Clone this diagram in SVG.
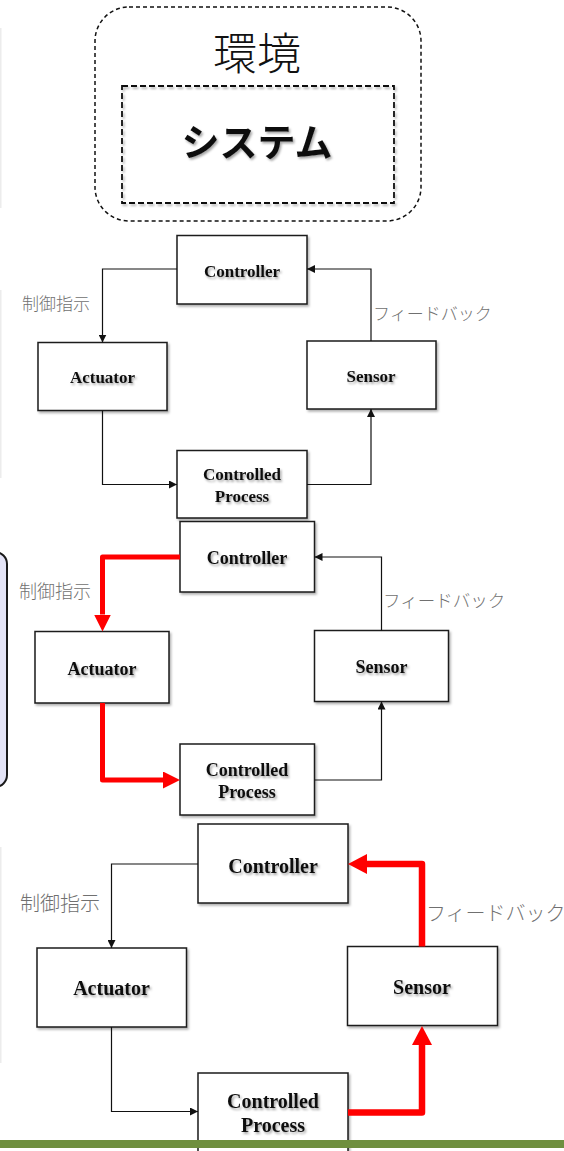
<svg xmlns="http://www.w3.org/2000/svg" width="564" height="1151" viewBox="0 0 564 1151">
<style>
.box{fill:#fff;stroke:#1a1a1a;stroke-width:1.5}
.lbl{font-family:"Liberation Serif","Times New Roman",serif;font-weight:bold;fill:#111;text-anchor:middle}
.jp{font-family:"Noto Sans CJK JP","Noto Sans",sans-serif;fill:#707070;font-weight:300}
.blk{fill:none;stroke:#111;stroke-width:1.2}
.red3{fill:none;stroke:#ff0000;stroke-width:5;stroke-linejoin:round}
.red4{fill:none;stroke:#ff0000;stroke-width:6.5;stroke-linejoin:round}
.edge{stroke:#ececec;stroke-width:2}
</style>
<defs>
<filter id="bsh" x="-10%" y="-10%" width="130%" height="130%">
<feDropShadow dx="1.5" dy="2" stdDeviation="1.2" flood-color="#000" flood-opacity="0.3"/>
</filter>
<filter id="tsh" x="-10%" y="-20%" width="130%" height="150%">
<feDropShadow dx="1.5" dy="2" stdDeviation="1" flood-color="#000" flood-opacity="0.35"/>
</filter>
<marker id="ab" markerUnits="userSpaceOnUse" markerWidth="8" markerHeight="8" refX="8" refY="4" orient="auto">
<path d="M0,0 L8,4 L0,8 z" fill="#111"/>
</marker>
<marker id="ar3" markerUnits="userSpaceOnUse" markerWidth="17" markerHeight="17" refX="0" refY="8.5" orient="auto">
<path d="M0,0 L17,8.5 L0,17 z" fill="#ff0000"/>
</marker>
<marker id="ar4" markerUnits="userSpaceOnUse" markerWidth="20" markerHeight="20" refX="0" refY="10" orient="auto">
<path d="M0,0 L19,10 L0,20 z" fill="#ff0000"/>
</marker>
</defs>

<rect width="564" height="1151" fill="#fff"/>

<!-- left edge partial shapes -->
<g id="left-edges">
<line class="edge" x1="0.5" y1="28" x2="0.5" y2="208"/>
<line class="edge" x1="0.5" y1="290" x2="0.5" y2="478"/>
<line class="edge" x1="0.5" y1="847" x2="0.5" y2="1063"/>
<rect x="-20" y="552" width="27" height="235" rx="12" fill="#e4e4f7" stroke="#1a1a1a" stroke-width="2"/>
</g>

<!-- Section 1: environment / system -->
<g id="env">
<rect x="95" y="7" width="326" height="214" rx="34" fill="#fff" stroke="#111" stroke-width="1.5" stroke-dasharray="4 3"/>
<text x="257" y="70" text-anchor="middle" class="jp" style="font-size:44px;fill:#111;font-weight:300">環境</text>
</g>
<g id="system">
<rect x="122" y="86" width="272" height="117" fill="none" stroke="#111" stroke-width="1.8" stroke-dasharray="6 3" filter="url(#bsh)"/>
<text x="257" y="156" text-anchor="middle" class="jp" style="font-size:38px;fill:#111;font-weight:bold" filter="url(#tsh)">システム</text>
</g>

<!-- Section 2 -->
<g id="s2-controller" filter="url(#bsh)">
<rect class="box" x="177" y="235.5" width="130" height="68.5"/>
<text class="lbl" x="242" y="276.5" font-size="17" filter="url(#tsh)">Controller</text>
</g>
<g id="s2-actuator" filter="url(#bsh)">
<rect class="box" x="38" y="342.5" width="129" height="68"/>
<text class="lbl" x="102.5" y="383" font-size="17" filter="url(#tsh)">Actuator</text>
</g>
<g id="s2-sensor" filter="url(#bsh)">
<rect class="box" x="307" y="341" width="129" height="68"/>
<text class="lbl" x="371" y="382" font-size="17" filter="url(#tsh)">Sensor</text>
</g>
<g id="s2-process" filter="url(#bsh)">
<rect class="box" x="177" y="450.5" width="130" height="67.5"/>
<text class="lbl" x="242" y="480" font-size="17" filter="url(#tsh)">Controlled</text>
<text class="lbl" x="242" y="502" font-size="17" filter="url(#tsh)">Process</text>
</g>

<!-- Section 3 -->
<g id="s3-controller" filter="url(#bsh)">
<rect class="box" x="180" y="521.5" width="134.5" height="70.5"/>
<text class="lbl" x="247" y="564" font-size="18" filter="url(#tsh)">Controller</text>
</g>
<g id="s3-actuator" filter="url(#bsh)">
<rect class="box" x="35" y="631.5" width="134" height="71.5"/>
<text class="lbl" x="102" y="675" font-size="18" filter="url(#tsh)">Actuator</text>
</g>
<g id="s3-sensor" filter="url(#bsh)">
<rect class="box" x="314.5" y="630.5" width="134" height="71"/>
<text class="lbl" x="381.5" y="673" font-size="18" filter="url(#tsh)">Sensor</text>
</g>
<g id="s3-process" filter="url(#bsh)">
<rect class="box" x="180" y="744" width="134.5" height="71"/>
<text class="lbl" x="247" y="776" font-size="18" filter="url(#tsh)">Controlled</text>
<text class="lbl" x="247" y="798" font-size="18" filter="url(#tsh)">Process</text>
</g>

<!-- Section 4 -->
<g id="s4-controller" filter="url(#bsh)">
<rect class="box" x="198" y="824" width="150" height="79"/>
<text class="lbl" x="273" y="873" font-size="20" filter="url(#tsh)">Controller</text>
</g>
<g id="s4-actuator" filter="url(#bsh)">
<rect class="box" x="37" y="948" width="149.5" height="79"/>
<text class="lbl" x="111.5" y="995" font-size="20" filter="url(#tsh)">Actuator</text>
</g>
<g id="s4-sensor" filter="url(#bsh)">
<rect class="box" x="347.5" y="946.5" width="150" height="79"/>
<text class="lbl" x="422" y="994" font-size="20" filter="url(#tsh)">Sensor</text>
</g>
<g id="s4-process" filter="url(#bsh)">
<rect class="box" x="198" y="1073" width="150" height="90"/>
<text class="lbl" x="273" y="1108" font-size="20" filter="url(#tsh)">Controlled</text>
<text class="lbl" x="273" y="1132" font-size="20" filter="url(#tsh)">Process</text>
</g>

<!-- connectors -->
<g id="connectors">
<path class="blk" d="M177,269 H102.5 V342.5" marker-end="url(#ab)"/>
<path class="blk" d="M102.5,410.5 V484.5 H177" marker-end="url(#ab)"/>
<path class="blk" d="M307,484.5 H371 V409" marker-end="url(#ab)"/>
<path class="blk" d="M371,341 V269 H307" marker-end="url(#ab)"/>

<path class="red3" d="M180,557 H102.5 V614.5" marker-end="url(#ar3)"/>
<path class="red3" d="M102.5,703 V780 H163" marker-end="url(#ar3)"/>
<path class="blk" d="M314.5,780 H381.5 V701.5" marker-end="url(#ab)"/>
<path class="blk" d="M381.5,630.5 V557 H314.5" marker-end="url(#ab)"/>

<path class="blk" d="M198,864 H111.5 V948" marker-end="url(#ab)"/>
<path class="blk" d="M111.5,1027 V1111.5 H198" marker-end="url(#ab)"/>
<path class="red4" d="M348,1112.5 H422 V1045" marker-end="url(#ar4)"/>
<path class="red4" d="M422,946.5 V864 H367" marker-end="url(#ar4)"/>
</g>

<!-- connector labels -->
<g id="labels">
<text class="jp" x="22" y="309.5" font-size="17">制御指示</text>
<text class="jp" x="373" y="319.5" font-size="17">フィードバック</text>
<text class="jp" x="19" y="598" font-size="18">制御指示</text>
<text class="jp" x="383" y="607" font-size="17.5">フィードバック</text>
<text class="jp" x="20" y="910.5" font-size="20">制御指示</text>
<text class="jp" x="426" y="920.5" font-size="20">フィードバック</text>
</g>

<rect id="bottom-bar" x="0" y="1140" width="564" height="8" fill="#6f8f3f"/>
</svg>
